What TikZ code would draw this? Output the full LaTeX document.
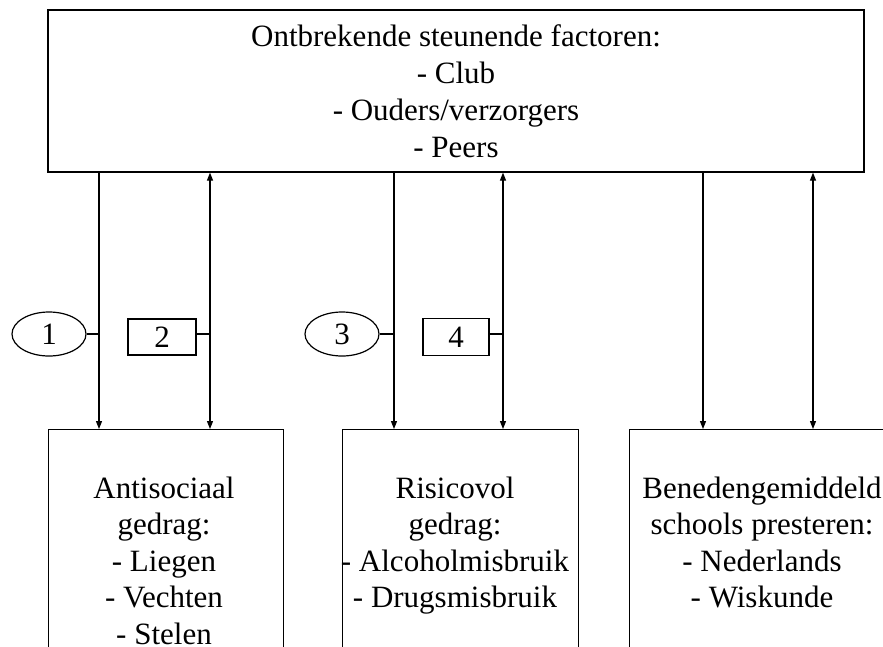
\documentclass[tikz,border=0pt]{standalone}
\usepackage{fontspec}
\setmainfont{Liberation Serif}
\usetikzlibrary{arrows.meta,shapes.geometric}
\begin{document}
\begin{tikzpicture}[x=1pt,y=-1pt, line width=1.2pt,
  box/.style={draw, rectangle, inner sep=0pt},
  txt/.style={align=center, inner sep=0pt, font=\fontsize{31}{37}\selectfont},
  btxt/.style={align=center, inner sep=0pt, font=\fontsize{31}{36.5}\selectfont},
  lbl/.style={draw, inner sep=0pt, font=\fontsize{31}{37}\selectfont},
  arr/.style={-{Triangle[length=8pt,width=6pt]}},
  darr/.style={{Triangle[length=8pt,width=6pt]}-{Triangle[length=8pt,width=6pt]}}]
\useasboundingbox (0,0) rectangle (883,646);
\clip (0,0) rectangle (883,646);

\node[box, txt, minimum width=816pt, minimum height=162pt] (top) at (456,91)
  {Ontbrekende steunende factoren:\\- Club\\- Ouders/verzorgers\\- Peers};

\node[box, minimum width=235pt, minimum height=300pt, anchor=north west] (b1) at (48,429) {};
\node[box, minimum width=236pt, minimum height=300pt, anchor=north west] (b2) at (342,429) {};
\node[box, minimum width=300pt, minimum height=300pt, anchor=north west] (b3) at (629,429) {};

\node[btxt, anchor=north] (b1t) at (164,476) {Antisociaal\\gedrag:\\- Liegen\\- Vechten\\- Stelen};
\node[btxt, anchor=north] (b2t) at (455,476) {Risicovol\\gedrag:\\- Alcoholmisbruik\\- Drugsmisbruik};
\node[btxt, anchor=north] (b3t) at (762,476) {Benedengemiddeld\\schools presteren:\\- Nederlands\\- Wiskunde};

\node[lbl, ellipse, minimum width=74pt, minimum height=44pt] (l1) at (49,334) {1};
\node[lbl, minimum width=68pt, minimum height=36pt] (l2) at (162,337) {2};
\node[lbl, ellipse, minimum width=74pt, minimum height=44pt] (l3) at (342,334) {3};
\node[lbl, minimum width=66pt, minimum height=37pt] (l4) at (456,337) {4};

\coordinate (v1) at (99,334);
\coordinate (v2) at (210,334);
\coordinate (v3) at (394,334);
\coordinate (v4) at (503,334);
\coordinate (v5) at (703,334);
\coordinate (v6) at (813,334);

\draw[arr] (top.south -| v1) -- (b1.north -| v1);
\draw[darr] (top.south -| v2) -- (b1.north -| v2);
\draw[arr] (top.south -| v3) -- (b2.north -| v3);
\draw[darr] (top.south -| v4) -- (b2.north -| v4);
\draw[arr] (top.south -| v5) -- (b3.north -| v5);
\draw[darr] (top.south -| v6) -- (b3.north -| v6);

\draw (l1.east) -- (v1);
\draw (l2.east |- v2) -- (v2);
\draw (l3.east) -- (v3);
\draw (l4.east |- v4) -- (v4);
\end{tikzpicture}
\end{document}
